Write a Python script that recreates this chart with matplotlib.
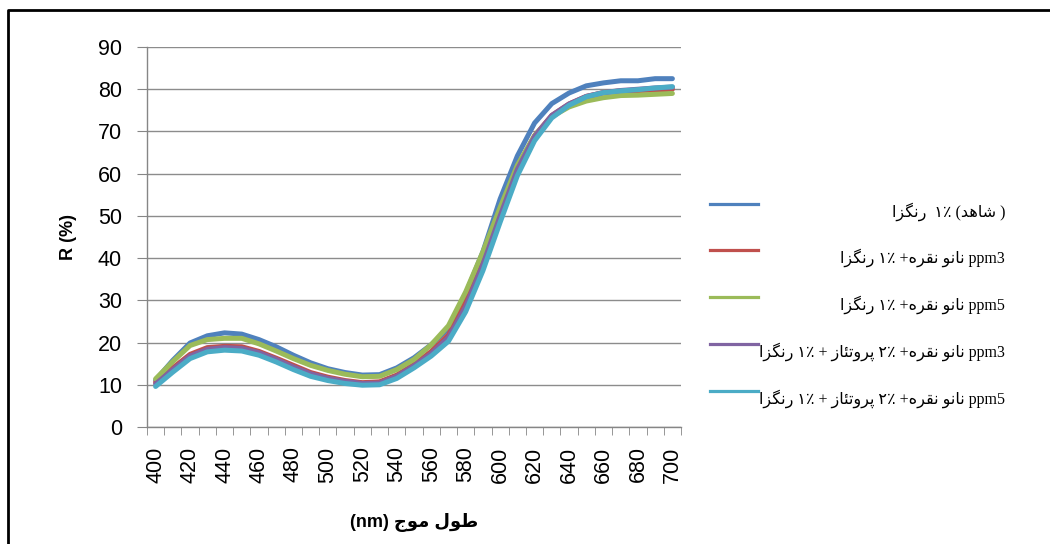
import matplotlib
matplotlib.use('Agg')
import matplotlib.pyplot as plt
from matplotlib.lines import Line2D

# Persian text helper: letters -> presentation forms (iso, fin, ini, med)
FORMS = {
    'ا': ('\uFE8D', '\uFE8E', None, None),
    'ر': ('\uFEAD', '\uFEAE', None, None),
    'ز': ('\uFEAF', '\uFEB0', None, None),
    'د': ('\uFEA9', '\uFEAA', None, None),
    'و': ('\uFEED', '\uFEEE', None, None),
    'ن': ('\uFEE5', '\uFEE6', '\uFEE7', '\uFEE8'),
    'گ': ('\uFB92', '\uFB93', '\uFB94', '\uFB95'),
    'ش': ('\uFEB5', '\uFEB6', '\uFEB7', '\uFEB8'),
    'ه': ('\uFEE9', '\uFEEA', '\uFEEB', '\uFEEC'),
    'ق': ('\uFED5', '\uFED6', '\uFED7', '\uFED8'),
    'پ': ('\uFB56', '\uFB57', '\uFB58', '\uFB59'),
    'ت': ('\uFE95', '\uFE96', '\uFE97', '\uFE98'),
    'ئ': ('\uFE89', '\uFE8A', '\uFE8B', '\uFE8C'),
    'ط': ('\uFEC1', '\uFEC2', '\uFEC3', '\uFEC4'),
    'ل': ('\uFEDD', '\uFEDE', '\uFEDF', '\uFEE0'),
    'م': ('\uFEE1', '\uFEE2', '\uFEE3', '\uFEE4'),
    'ج': ('\uFE9D', '\uFE9E', '\uFE9F', '\uFEA0'),
}


def shape(word):
    # join letters and return them in visual (left to right) order
    out = []
    for i, ch in enumerate(word):
        f = FORMS.get(ch)
        if f is None:
            out.append(ch)
            continue
        prev = word[i - 1] if i > 0 else ''
        nxt = word[i + 1] if i + 1 < len(word) else ''
        jp = prev in FORMS and FORMS[prev][2] is not None
        jn = f[2] is not None and nxt in FORMS
        if jp and jn:
            out.append(f[3])
        elif jp:
            out.append(f[1])
        elif jn:
            out.append(f[2])
        else:
            out.append(f[0])
    return ''.join(reversed(out))


def fa(phrase):
    # visual order of a pure persian phrase
    return ' '.join(shape(w) for w in reversed(phrase.split()))


# data
wavelength = list(range(400, 701, 10))
control = [11.1, 15.8, 19.9, 21.6, 22.3, 22.0, 20.7, 19.0, 17.0, 15.2, 13.8,
           12.9, 12.3, 12.4, 14.0, 16.4, 19.5, 23.3, 31.5, 41.5, 54.0, 64.2,
           72.0, 76.6, 79.1, 80.8, 81.5, 82.0, 82.0, 82.5, 82.5]
silver3 = [10.6, 14.0, 17.2, 18.8, 19.1, 19.0, 17.9, 16.3, 14.6, 12.9, 11.8,
           11.0, 10.5, 10.7, 12.3, 14.8, 17.9, 21.8, 29.5, 39.5, 51.0, 61.5,
           69.0, 73.8, 76.5, 78.3, 79.2, 79.6, 79.7, 79.8, 80.0]
silver5 = [11.4, 15.5, 19.3, 20.7, 21.0, 21.0, 19.7, 18.0, 16.2, 14.6, 13.4,
           12.5, 11.9, 12.0, 13.6, 16.0, 19.5, 24.0, 32.0, 41.5, 52.0, 62.0,
           69.0, 73.5, 75.8, 77.2, 78.0, 78.5, 78.6, 78.8, 79.0]
protease3 = [10.2, 13.6, 16.8, 18.4, 18.8, 18.6, 17.6, 16.0, 14.2, 12.6, 11.5,
             10.8, 10.3, 10.4, 12.0, 14.5, 17.4, 21.2, 28.5, 38.5, 50.0, 61.0,
             68.8, 73.8, 76.5, 78.3, 79.2, 79.7, 80.0, 80.3, 80.5]
protease5 = [9.6, 13.0, 16.2, 17.8, 18.2, 18.0, 17.0, 15.4, 13.6, 12.0, 11.0,
             10.3, 9.9, 10.0, 11.5, 14.0, 16.8, 20.3, 27.3, 37.0, 48.5, 59.5,
             67.8, 73.2, 76.2, 78.2, 79.2, 79.6, 79.9, 80.3, 80.6]

dye = shape('رنگزا')
silver = shape('نقره') + ' ' + shape('نانو')
labels = [
    dye + '  ۱٪ (' + shape('شاهد') + ' )',
    dye + ' ۱٪ +' + silver + ' ppm3',
    dye + ' ۱٪ +' + silver + ' ppm5',
    dye + ' ۱٪ + ' + shape('پروتئاز') + ' ۲٪ +' + silver + ' ppm3',
    dye + ' ۱٪ + ' + shape('پروتئاز') + ' ۲٪ +' + silver + ' ppm5',
]
series = [control, silver3, silver5, protease3, protease5]
colors = ['#4F81BD', '#C0504D', '#9BBB59', '#8064A2', '#4BACC6']

plt.rcParams['font.family'] = ['Liberation Sans', 'DejaVu Sans']

fig = plt.figure(figsize=(10.5, 5.44), dpi=100)
ax = fig.add_axes([147 / 1050, 1 - 427 / 544, 534 / 1050, 380 / 544])

x = list(range(len(wavelength)))
for ys, c in zip(series, colors):
    ax.plot(x, ys, color=c, lw=3.6, solid_joinstyle='round', solid_capstyle='round')

ax.set_xlim(-0.5, len(wavelength) - 0.5)
ax.set_ylim(0, 90)
ax.set_yticks(range(0, 91, 10))
ax.set_xticks(x[::2])
ax.set_xticklabels([str(w) for w in wavelength[::2]], rotation=90)
ax.set_xticks([i - 0.5 for i in range(len(wavelength) + 1)], minor=True)
ax.tick_params(axis='x', which='major', length=0, pad=14, labelsize=15.5)
ax.tick_params(axis='x', which='minor', length=6, color='#868686', direction='out')
ax.tick_params(axis='y', length=7, color='#868686', pad=11, labelsize=15.5)
ax.grid(axis='y', color='#8c8c8c', lw=1)
ax.set_axisbelow(True)
for s in ['top', 'right']:
    ax.spines[s].set_visible(False)
for s in ['left', 'bottom']:
    ax.spines[s].set_color('#868686')
    ax.spines[s].set_linewidth(1)

ax.set_ylabel('R (%)', fontsize=13, fontweight='bold', labelpad=15)
ax.set_xlabel('(nm) ' + fa('طول موج'), fontsize=13, fontweight='bold', labelpad=22)

# legend drawn by hand (lines left, text right aligned)
row_y = [204, 250, 297, 344, 391]
for yy, c, lab in zip(row_y, colors, labels):
    fy = 1 - yy / 544
    fig.add_artist(Line2D([710 / 1050, 758 / 1050], [fy, fy], color=c, lw=2.3,
                          transform=fig.transFigure))
    fig.text(1005 / 1050, 1 - (yy + 8) / 544, lab, ha='right', va='center',
             fontsize=11.5, family=['Liberation Serif', 'DejaVu Sans'])

# outer frame (only left and top edges are inside the picture)
fig.add_artist(Line2D([8 / 1050, 8 / 1050, 1.0], [0.0, 1 - 10 / 544, 1 - 10 / 544],
                      color='black', lw=2, transform=fig.transFigure))

fig.savefig('out.png', dpi=100)
